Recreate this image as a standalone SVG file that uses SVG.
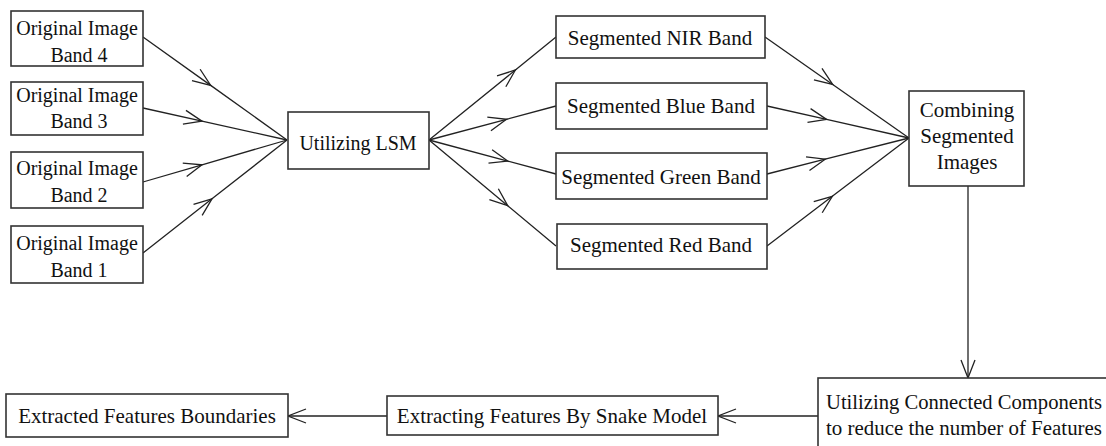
<svg xmlns="http://www.w3.org/2000/svg" width="1106" height="446" viewBox="0 0 1106 446">
<style>
.box{fill:#fff;stroke:#333;stroke-width:1.6}
.t{font-family:"Liberation Serif","Times New Roman",serif;font-size:21px;fill:#111;text-anchor:middle}
.s20{font-size:20px}
.l{text-anchor:start}
.c{fill:none;stroke:#222;stroke-width:1.3}
</style>
<defs>
<marker id="ah" viewBox="-20 -10 22 20" refX="0" refY="0" markerWidth="22" markerHeight="20" markerUnits="userSpaceOnUse" orient="auto">
<path d="M-18,-7 L0,0 L-18,7" fill="none" stroke="#222" stroke-width="1.3"/>
</marker>
</defs>
<rect width="1106" height="446" fill="#fff"/>
<g id="connectors">
<polyline class="c" marker-mid="url(#ah)" points="143,37 210.7,85.4 287,140"/>
<polyline class="c" marker-mid="url(#ah)" points="143,108 202,121.1 287,140"/>
<polyline class="c" marker-mid="url(#ah)" points="143,182 202,164.8 287,140"/>
<polyline class="c" marker-mid="url(#ah)" points="143,253 212,198.8 287,140"/>
<polyline class="c" marker-mid="url(#ah)" points="429,140 515.4,70 556,37"/>
<polyline class="c" marker-mid="url(#ah)" points="429,140 506.5,119.3 556,106"/>
<polyline class="c" marker-mid="url(#ah)" points="429,140 507.7,161.1 556,174"/>
<polyline class="c" marker-mid="url(#ah)" points="429,140 507.7,205.7 556,246"/>
<polyline class="c" marker-mid="url(#ah)" points="765,37 832.7,84.5 909,138"/>
<polyline class="c" marker-mid="url(#ah)" points="767,106 826.6,119.4 909,138"/>
<polyline class="c" marker-mid="url(#ah)" points="767,174 825.2,159.2 909,138"/>
<polyline class="c" marker-mid="url(#ah)" points="767,246 832.3,196.3 909,138"/>
<line class="c" marker-end="url(#ah)" x1="968" y1="186" x2="968" y2="378"/>
<line class="c" marker-end="url(#ah)" x1="818" y1="416" x2="718" y2="416"/>
<line class="c" marker-end="url(#ah)" x1="387" y1="416" x2="288" y2="416"/>
</g>
<g id="band4"><rect class="box" x="11" y="11" width="132" height="55"/><text class="t s20" x="77" y="35">Original Image</text><text class="t s20" x="79" y="62">Band 4</text></g>
<g id="band3"><rect class="box" x="11" y="82" width="132" height="53"/><text class="t s20" x="77" y="102">Original Image</text><text class="t s20" x="79" y="128">Band 3</text></g>
<g id="band2"><rect class="box" x="11" y="152" width="132" height="56"/><text class="t s20" x="77" y="175">Original Image</text><text class="t s20" x="79" y="202">Band 2</text></g>
<g id="band1"><rect class="box" x="11" y="226" width="132" height="57"/><text class="t s20" x="77" y="250">Original Image</text><text class="t s20" x="79" y="277">Band 1</text></g>
<g id="lsm"><rect class="box" x="288" y="112" width="141" height="57"/><text class="t s20" x="358" y="150">Utilizing LSM</text></g>
<g id="nir"><rect class="box" x="556" y="16" width="209" height="42"/><text class="t" x="660" y="45">Segmented NIR Band</text></g>
<g id="blue"><rect class="box" x="556" y="83" width="211" height="46"/><text class="t" x="661" y="113">Segmented Blue Band</text></g>
<g id="green"><rect class="box" x="556" y="153" width="211" height="46"/><text class="t" x="661" y="184">Segmented Green Band</text></g>
<g id="red"><rect class="box" x="557" y="224" width="210" height="45"/><text class="t" x="661" y="252">Segmented Red Band</text></g>
<g id="combining"><rect class="box" x="909" y="91" width="115" height="95"/><text class="t" x="967" y="117">Combining</text><text class="t" x="967" y="143">Segmented</text><text class="t" x="967" y="169">Images</text></g>
<g id="connected"><rect class="box" x="818" y="378" width="300" height="80"/><text class="t l" x="826" y="409" textLength="276" lengthAdjust="spacingAndGlyphs">Utilizing Connected Components</text><text class="t l" x="826" y="435" textLength="276" lengthAdjust="spacingAndGlyphs">to reduce the number of Features</text></g>
<g id="snake"><rect class="box" x="387" y="396" width="331" height="39"/><text class="t" x="552" y="423">Extracting Features By Snake Model</text></g>
<g id="extracted"><rect class="box" x="6" y="394" width="282" height="43"/><text class="t" x="147" y="423">Extracted Features Boundaries</text></g>
</svg>
